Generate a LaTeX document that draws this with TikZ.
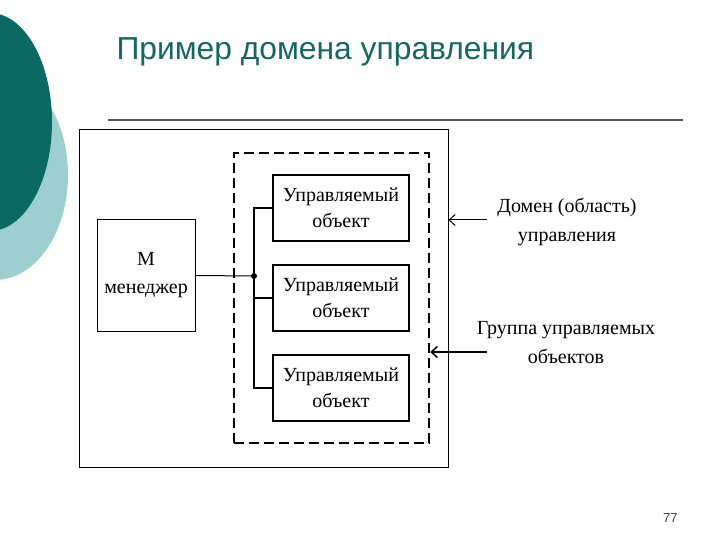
\documentclass[tikz,border=0pt]{standalone}
\usepackage{fontspec}
\setmainfont{Liberation Serif}
\newfontfamily\headfont{Liberation Sans}
\usetikzlibrary{positioning,arrows.meta}
\definecolor{tealdark}{HTML}{0A6962}
\definecolor{teallight}{HTML}{9DCFD0}
\definecolor{titlecol}{HTML}{15675F}
\tikzset{>={Straight Barb[length=6pt,width=11pt]}}
\tikzset{
  objbox/.style={draw, line width=1.2pt, fill=white, minimum width=136pt, minimum height=66pt,
    inner sep=0pt, align=center, font=\fontsize{20}{26}\selectfont},
  mgrbox/.style={draw, line width=1pt, minimum width=98pt, minimum height=111pt,
    inner sep=0pt, align=center, font=\fontsize{20}{28}\selectfont},
  lbl/.style={align=center, inner sep=0pt, font=\fontsize{20}{29}\selectfont}
}

\begin{document}
\begin{tikzpicture}[x=1pt,y=-1pt,line width=1pt]
\useasboundingbox (0,0) rectangle (720,540);
\begin{scope}
  \clip (0,0) rectangle (720,540);
  \fill[teallight] (-5,175) ellipse (73 and 105);
  \fill[tealdark] (-10,122) ellipse (62 and 109);
\end{scope}
% title and rule
\node[anchor=base west, inner sep=0pt, text=titlecol, font=\headfont\fontsize{31.8}{36}\selectfont] (title) at (116,60) {Пример домена управления};
\draw[line width=2pt, black!67] (108,120) -- (683,120);
% domain and group frames
\node[draw, line width=1pt, minimum width=369pt, minimum height=337pt] (dom) at (263.5,298.5) {};
\node[draw, line width=2.5pt, dash pattern=on 10pt off 5pt, minimum width=195pt, minimum height=290pt] (grp) at (331.5,298) {};
% manager and objects
\node[mgrbox] (mgr) at (146,275.5) {М\\менеджер};
\node[objbox] (obj1) at (341,208) {Управляемый\\объект};
\node[objbox] (obj2) at (341,298) {Управляемый\\объект};
\node[objbox] (obj3) at (341,388) {Управляемый\\объект};
\node[circle, fill, inner sep=0pt, minimum size=6pt] (junc) at (254,276) {};
\draw (mgr.east) -- (junc.center);
\draw[line width=1.3pt] (junc.center) |- (obj1.west);
\draw[line width=1.3pt] (junc.center) |- (obj2.west);
\draw[line width=1.3pt] (junc.center) |- (obj3.west);
% labels on the right
\node[lbl] (domlbl) at (567,222) {Домен (область)\\управления};
\node[lbl] (grplbl) at (566,343) {Группа управляемых\\объектов};
\coordinate (domtail) at (487,220);
\coordinate (grptail) at (487,352);
\draw[->] (domtail) -- (domtail -| dom.east);
\draw[->, line width=1.5pt] (grptail) -- (grptail -| grp.east);
\node[anchor=base east, inner sep=0pt, text=black!75, font=\headfont\fontsize{13}{15}\selectfont] (pgnum) at (678,522) {77};
\end{tikzpicture}
\end{document}
